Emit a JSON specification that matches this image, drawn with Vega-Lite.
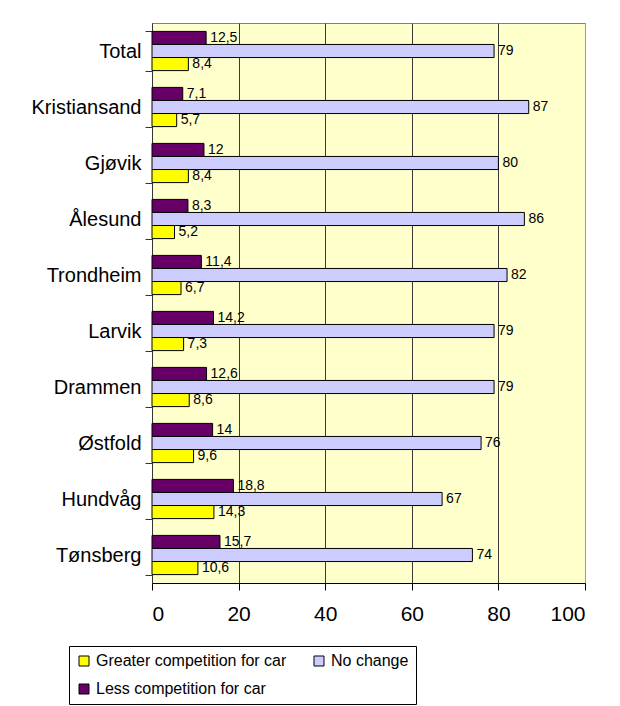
{
  "$schema": "https://vega.github.io/schema/vega-lite/v6.json",
  "width": 433,
  "height": 560,
  "autosize": {"type": "none"},
  "padding": {"left": 152, "top": 23, "right": 35, "bottom": 123},
  "background": "white",
  "data": {
    "values": [
      {"city": "Total", "series": "Less competition for car", "value": 12.5},
      {"city": "Total", "series": "No change", "value": 79},
      {"city": "Total", "series": "Greater competition for car", "value": 8.4},
      {"city": "Kristiansand", "series": "Less competition for car", "value": 7.1},
      {"city": "Kristiansand", "series": "No change", "value": 87},
      {"city": "Kristiansand", "series": "Greater competition for car", "value": 5.7},
      {"city": "Gjøvik", "series": "Less competition for car", "value": 12},
      {"city": "Gjøvik", "series": "No change", "value": 80},
      {"city": "Gjøvik", "series": "Greater competition for car", "value": 8.4},
      {"city": "Ålesund", "series": "Less competition for car", "value": 8.3},
      {"city": "Ålesund", "series": "No change", "value": 86},
      {"city": "Ålesund", "series": "Greater competition for car", "value": 5.2},
      {"city": "Trondheim", "series": "Less competition for car", "value": 11.4},
      {"city": "Trondheim", "series": "No change", "value": 82},
      {"city": "Trondheim", "series": "Greater competition for car", "value": 6.7},
      {"city": "Larvik", "series": "Less competition for car", "value": 14.2},
      {"city": "Larvik", "series": "No change", "value": 79},
      {"city": "Larvik", "series": "Greater competition for car", "value": 7.3},
      {"city": "Drammen", "series": "Less competition for car", "value": 12.6},
      {"city": "Drammen", "series": "No change", "value": 79},
      {"city": "Drammen", "series": "Greater competition for car", "value": 8.6},
      {"city": "Østfold", "series": "Less competition for car", "value": 14},
      {"city": "Østfold", "series": "No change", "value": 76},
      {"city": "Østfold", "series": "Greater competition for car", "value": 9.6},
      {"city": "Hundvåg", "series": "Less competition for car", "value": 18.8},
      {"city": "Hundvåg", "series": "No change", "value": 67},
      {"city": "Hundvåg", "series": "Greater competition for car", "value": 14.3},
      {"city": "Tønsberg", "series": "Less competition for car", "value": 15.7},
      {"city": "Tønsberg", "series": "No change", "value": 74},
      {"city": "Tønsberg", "series": "Greater competition for car", "value": 10.6}
    ]
  },
  "encoding": {
    "y": {
      "field": "city",
      "type": "nominal",
      "sort": null,
      "scale": {"paddingInner": 0.3, "paddingOuter": 0.15},
      "axis": {
        "title": null,
        "labelFont": "Liberation Sans",
        "labelFontSize": 20,
        "labelColor": "black",
        "tickBand": "extent",
        "tickSize": 7,
        "tickColor": "#333333",
        "domainColor": "#333333",
        "labelPadding": 4,
        "grid": false
      }
    },
    "x": {
      "field": "value",
      "type": "quantitative",
      "scale": {"domain": [0, 100], "nice": false},
      "axis": {
        "title": null,
        "values": [0, 20, 40, 60, 80, 100],
        "grid": true,
        "gridColor": {"condition": {"test": "datum.value === 100", "value": "#999999"}, "value": "#3a3a3a"},
        "gridOpacity": 1,
        "labelFont": "Liberation Sans",
        "labelFontSize": 21,
        "labelColor": "black",
        "tickSize": 7,
        "tickColor": "black",
        "domainColor": "black",
        "labelPadding": 13
      }
    },
    "yOffset": {
      "field": "series",
      "type": "nominal",
      "sort": ["Less competition for car", "No change", "Greater competition for car"]
    }
  },
  "layer": [
    {
      "mark": {"type": "bar", "stroke": "black", "strokeWidth": 1},
      "encoding": {
        "color": {
          "field": "series",
          "type": "nominal",
          "scale": {
            "domain": ["Greater competition for car", "No change", "Less competition for car"],
            "range": ["#FFFF00", "#CCCCFF", "#660066"]
          },
          "legend": {
            "orient": "none",
            "legendX": -83,
            "legendY": 623,
            "direction": "horizontal",
            "columns": 2,
            "gridAlign": "all",
            "title": null,
            "symbolType": "square",
            "symbolSize": 100,
            "symbolStrokeColor": "black",
            "symbolStrokeWidth": 1,
            "labelFont": "Liberation Sans",
            "labelFontSize": 16,
            "labelColor": "black",
            "labelLimit": 400,
            "strokeColor": "black",
            "fillColor": "white",
            "padding": 7,
            "rowPadding": 12,
            "columnPadding": 24
          }
        }
      }
    },
    {
      "mark": {"type": "text", "align": "left", "baseline": "middle", "dx": 4, "font": "Liberation Sans", "fontSize": 14, "color": "black"},
      "encoding": {
        "text": {"field": "value", "type": "quantitative", "format": "~g"}
      }
    }
  ],
  "config": {
    "locale": {"number": {"decimal": ",", "thousands": ".", "grouping": [3], "currency": ["", ""]}},
    "view": {"fill": "#FFFFCC", "stroke": "#808080"}
  }
}
